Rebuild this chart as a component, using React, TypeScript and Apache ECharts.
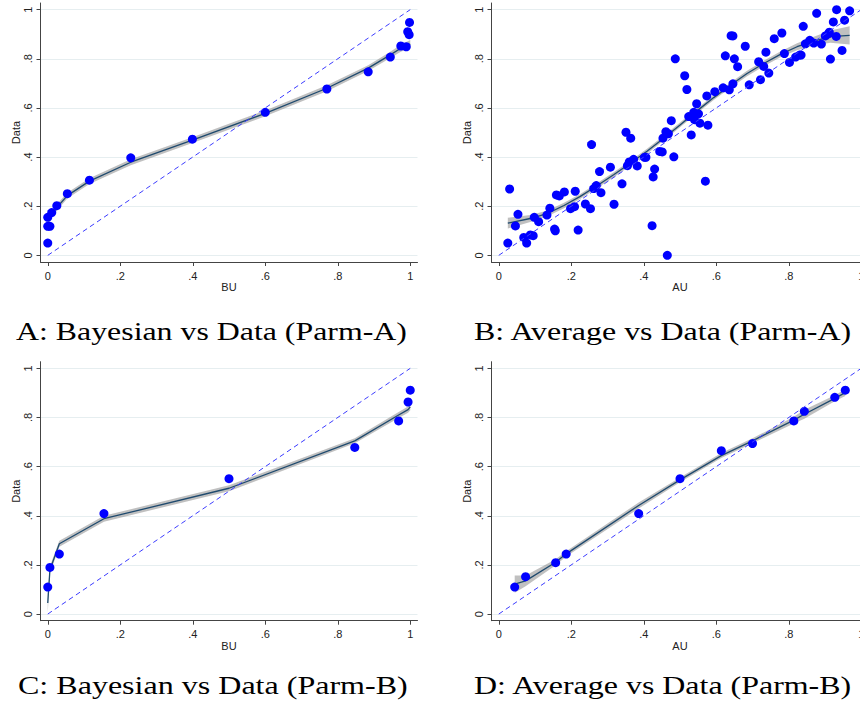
import React, { useEffect, useRef } from 'react';
import * as echarts from 'echarts';

// ---------- data ----------
const ticks = [0, 0.2, 0.4, 0.6, 0.8, 1];
const diag = [0, 1];

// Panel A: Bayesian (BU) vs Data, Parm-A
const aX = [0, 0, 0, 0.006, 0.011, 0.025, 0.054, 0.115, 0.229, 0.399, 0.6, 0.77, 0.884, 0.945, 0.974, 0.989, 0.993, 0.997, 0.998];
const aY = [0.05, 0.155, 0.118, 0.118, 0.174, 0.202, 0.251, 0.306, 0.397, 0.473, 0.582, 0.677, 0.747, 0.807, 0.852, 0.849, 0.91, 0.898, 0.948];
const aFitX = [0, 0.006, 0.011, 0.025, 0.054, 0.115, 0.229, 0.399, 0.6, 0.77, 0.884, 0.945, 0.974, 0.989, 1.0];
const aFitY = [0.14, 0.155, 0.168, 0.195, 0.243, 0.302, 0.379, 0.469, 0.578, 0.68, 0.762, 0.816, 0.843, 0.853, 0.86];
const aBand = [0.018, 0.015, 0.014, 0.013, 0.012, 0.012, 0.012, 0.012, 0.012, 0.012, 0.012, 0.013, 0.014, 0.015, 0.016];

// Panel B: Average (AU) vs Data, Parm-A
const bX = [
  0.025, 0.03, 0.046, 0.053, 0.069, 0.077, 0.087, 0.095, 0.098, 0.11,
  0.133, 0.141, 0.154, 0.156, 0.159, 0.167, 0.181, 0.198, 0.209, 0.211,
  0.219, 0.239, 0.253, 0.256, 0.262, 0.269, 0.278, 0.282, 0.308, 0.318,
  0.34, 0.351, 0.355, 0.36, 0.364, 0.372, 0.382, 0.402, 0.406, 0.423,
  0.426, 0.43, 0.444, 0.451, 0.453, 0.461, 0.465, 0.468, 0.476, 0.483,
  0.487, 0.513, 0.519, 0.524, 0.531, 0.538, 0.54, 0.546, 0.551, 0.555,
  0.57, 0.574, 0.577, 0.596, 0.619, 0.625, 0.636, 0.641, 0.646, 0.646,
  0.65, 0.659, 0.68, 0.691, 0.717, 0.722, 0.731, 0.737, 0.745, 0.76,
  0.781, 0.788, 0.802, 0.819, 0.83, 0.834, 0.84, 0.846, 0.858, 0.869,
  0.877, 0.89, 0.901, 0.909, 0.912, 0.915, 0.923, 0.931, 0.932, 0.947,
  0.954, 0.968,
];
const bY = [
  0.05, 0.27, 0.12, 0.167, 0.073, 0.05, 0.083, 0.08, 0.155, 0.137,
  0.164, 0.192, 0.107, 0.1, 0.246, 0.242, 0.258, 0.19, 0.198, 0.261,
  0.103, 0.209, 0.19, 0.451, 0.272, 0.284, 0.341, 0.255, 0.359, 0.208,
  0.291, 0.501, 0.365, 0.38, 0.477, 0.391, 0.364, 0.399, 0.399, 0.121,
  0.319, 0.351, 0.423, 0.421, 0.477, 0.503, 0.0, 0.495, 0.548, 0.401,
  0.8, 0.731, 0.675, 0.565, 0.49, 0.582, 0.552, 0.617, 0.576, 0.538,
  0.302, 0.649, 0.53, 0.666, 0.682, 0.812, 0.674, 0.894, 0.893, 0.698,
  0.8, 0.768, 0.851, 0.694, 0.788, 0.715, 0.769, 0.827, 0.742, 0.882,
  0.905, 0.821, 0.785, 0.807, 0.815, 0.815, 0.932, 0.861, 0.875, 0.864,
  0.985, 0.86, 0.893, 0.901, 0.908, 0.799, 0.95, 0.891, 1.0, 0.834,
  0.957, 0.995,
];
const bFitX = [0.025, 0.087, 0.133, 0.18, 0.225, 0.271, 0.317, 0.363, 0.409, 0.455, 0.501, 0.547, 0.593, 0.639, 0.685, 0.731, 0.777, 0.823, 0.869, 0.915, 0.968];
const bFitY = [0.131, 0.15, 0.17, 0.203, 0.24, 0.283, 0.328, 0.375, 0.424, 0.477, 0.532, 0.588, 0.642, 0.692, 0.74, 0.781, 0.818, 0.849, 0.872, 0.89, 0.895];
const bBand = [0.022, 0.014, 0.012, 0.011, 0.01, 0.01, 0.01, 0.01, 0.01, 0.01, 0.01, 0.01, 0.01, 0.01, 0.011, 0.011, 0.012, 0.014, 0.018, 0.025, 0.037];

// Panel C: Bayesian (BU) vs Data, Parm-B
const cX = [0.0, 0.006, 0.032, 0.155, 0.5, 0.847, 0.968, 0.994, 1.0];
const cY = [0.11, 0.19, 0.244, 0.409, 0.551, 0.678, 0.786, 0.863, 0.911];
const cFitX = [0.0, 0.006, 0.032, 0.155, 0.5, 0.847, 0.968, 0.994, 1.0];
const cFitY = [0.045, 0.18, 0.286, 0.388, 0.512, 0.705, 0.81, 0.832, 0.843];
const cBand = [0.04, 0.015, 0.012, 0.012, 0.012, 0.01, 0.012, 0.013, 0.014];

// Panel D: Average (AU) vs Data, Parm-B
const dX = [0.044, 0.074, 0.157, 0.186, 0.386, 0.5, 0.614, 0.7, 0.814, 0.843, 0.927, 0.956];
const dY = [0.11, 0.152, 0.209, 0.244, 0.409, 0.551, 0.665, 0.694, 0.786, 0.825, 0.882, 0.911];
const dFitX = [0.044, 0.074, 0.157, 0.186, 0.386, 0.5, 0.614, 0.7, 0.814, 0.843, 0.927, 0.956];
const dFitY = [0.122, 0.135, 0.211, 0.245, 0.442, 0.546, 0.645, 0.705, 0.789, 0.813, 0.878, 0.901];
const dBand = [0.035, 0.022, 0.012, 0.011, 0.012, 0.01, 0.01, 0.01, 0.014, 0.018, 0.012, 0.014];

const captions = [
  'A: Bayesian vs Data (Parm-A)',
  'B: Average vs Data (Parm-A)',
  'C: Bayesian vs Data (Parm-B)',
  'D: Average vs Data (Parm-B)',
];
const xNames = ['BU', 'AU', 'BU', 'AU'];

// ---------- layout ----------
const W = 860;
const H = 708;
const layout = [
  { left: 40.5, top: 3, capX: 16, capW: 391, capY: 331 },
  { left: 491.5, top: 3, capX: 474, capW: 379, capY: 331 },
  { left: 40.5, top: 361.7, capX: 18, capW: 390, capY: 685 },
  { left: 491.5, top: 361.7, capX: 474, capW: 379, capY: 685 },
];
const GW = 377;
const GH = 259;
const SANS = '"Liberation Sans", Arial, sans-serif';
const CAP_FONT = '25px "Liberation Serif"';

const fmt = (v: number) => (Math.abs(v) < 1e-9 ? '0' : Math.abs(v - 1) < 1e-9 ? '1' : '.' + Math.round(v * 10));

function measure(text: string): number {
  const c = document.createElement('canvas');
  const ctx = c.getContext('2d');
  if (!ctx) return text.length * 11;
  ctx.font = CAP_FONT;
  return ctx.measureText(text).width;
}

export default function App() {
  const ref = useRef<HTMLDivElement>(null);

  useEffect(() => {
    if (!ref.current) return;
    const chart = echarts.init(ref.current, null, { renderer: 'svg' });

    const panels = [
      { px: aX, py: aY, fx: aFitX, fy: aFitY, band: aBand },
      { px: bX, py: bY, fx: bFitX, fy: bFitY, band: bBand },
      { px: cX, py: cY, fx: cFitX, fy: cFitY, band: cBand },
      { px: dX, py: dY, fx: dFitX, fy: dFitY, band: dBand },
    ];

    const grids: any[] = [];
    const xAxes: any[] = [];
    const yAxes: any[] = [];
    const series: any[] = [];
    const graphics: any[] = [];

    panels.forEach((p, i) => {
      const L = layout[i];
      grids.push({ left: L.left, top: L.top, width: GW, height: GH, containLabel: false, outerBoundsMode: 'none' });
      xAxes.push({
        gridIndex: i,
        type: 'value',
        min: -0.02,
        max: 1.02,
        name: xNames[i],
        nameLocation: 'middle',
        nameGap: 18,
        nameTextStyle: { fontSize: 11, color: '#222', fontFamily: SANS },
        axisLine: { show: true, onZero: false, lineStyle: { color: '#444', width: 1 } },
        axisTick: { show: true, length: 4, inside: false, customValues: ticks, lineStyle: { color: '#444', width: 1 } },
        axisLabel: { customValues: ticks, formatter: fmt, fontSize: 11, color: '#222', margin: 8, fontFamily: SANS },
        splitLine: { show: false },
      });
      yAxes.push({
        gridIndex: i,
        type: 'value',
        min: -0.027,
        max: 1.027,
        name: 'Data',
        nameLocation: 'middle',
        nameGap: 19,
        nameRotate: 90,
        nameTextStyle: { fontSize: 11, color: '#222', fontFamily: SANS },
        axisLine: { show: true, onZero: false, lineStyle: { color: '#444', width: 1 } },
        axisTick: { show: true, length: 4, inside: false, customValues: ticks, lineStyle: { color: '#444', width: 1 } },
        axisLabel: { customValues: ticks, formatter: fmt, rotate: 90, fontSize: 11, color: '#222', margin: 7, fontFamily: SANS },
        splitLine: { show: true, lineStyle: { color: '#e6eef0', width: 1 } },
      });

      const fx = p.fx;
      const fy = p.fy;
      const band = p.band;
      series.push({
        type: 'custom',
        xAxisIndex: i,
        yAxisIndex: i,
        silent: true,
        z: 1,
        clip: false,
        data: fx.map((x, j) => [x, fy[j]]),
        renderItem: (params: any, api: any) => {
          if (params.dataIndex !== 0) return null;
          const up = fx.map((x, j) => api.coord([x, fy[j] + band[j]]));
          const lo = fx.map((x, j) => api.coord([x, fy[j] - band[j]])).reverse();
          return {
            type: 'polygon',
            shape: { points: up.concat(lo) },
            style: { fill: 'rgba(140,140,140,0.55)', stroke: 'none' },
          };
        },
      });
      series.push({
        type: 'line',
        xAxisIndex: i,
        yAxisIndex: i,
        data: fx.map((x, j) => [x, fy[j]]),
        symbol: 'none',
        showSymbol: false,
        silent: true,
        z: 2,
        lineStyle: { color: '#1f4a6e', width: 1.3 },
      });
      series.push({
        type: 'scatter',
        xAxisIndex: i,
        yAxisIndex: i,
        data: p.px.map((x, j) => [x, p.py[j]]),
        symbol: 'circle',
        symbolSize: 9,
        z: 3,
        itemStyle: { color: '#0000ff', opacity: 1 },
      });
      series.push({
        type: 'line',
        xAxisIndex: i,
        yAxisIndex: i,
        data: diag.map((v) => [v, v]),
        symbol: 'none',
        showSymbol: false,
        silent: true,
        z: 4,
        lineStyle: { color: '#3c3cff', width: 1, type: [5, 3.5] },
      });

      const text = captions[i];
      const w = measure(text);
      graphics.push({
        type: 'text',
        x: L.capX,
        y: L.capY,
        scaleX: w > 0 ? L.capW / w : 1,
        silent: true,
        style: {
          text,
          font: CAP_FONT,
          fill: '#000',
          align: 'left',
          verticalAlign: 'middle',
        },
      });
    });

    chart.setOption({
      animation: false,
      backgroundColor: '#ffffff',
      textStyle: { fontFamily: SANS },
      grid: grids,
      xAxis: xAxes,
      yAxis: yAxes,
      series,
      graphic: graphics,
    });

    return () => {
      chart.dispose();
    };
  }, []);

  return (
    <div
      ref={ref}
      style={{ position: 'absolute', left: 0, top: 0, width: W, height: H, background: '#fff' }}
    />
  );
}
